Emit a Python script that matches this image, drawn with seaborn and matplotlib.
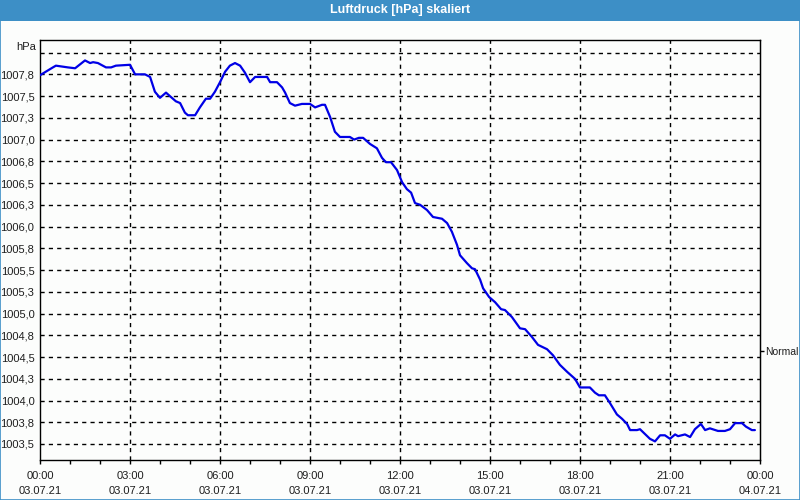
import matplotlib
matplotlib.use("Agg")
import matplotlib.pyplot as plt
from matplotlib.patches import Rectangle
import seaborn as sns
import pandas as pd

# ---- data ----
hours = [0.00, 0.43, 0.53, 0.93, 1.17, 1.50, 1.67, 1.77, 1.93, 2.20, 2.37, 2.53, 3.00,
         3.17, 3.50, 3.67, 3.83, 4.00, 4.20, 4.33, 4.53, 4.67, 4.83, 4.93, 5.17, 5.33,
         5.53, 5.67, 5.83, 6.00, 6.17, 6.33, 6.50, 6.67, 6.83, 7.00, 7.17, 7.57, 7.67,
         7.90, 8.07, 8.17, 8.33, 8.50, 8.73, 9.00, 9.17, 9.40, 9.50, 9.67, 9.83, 10.00,
         10.33, 10.47, 10.63, 10.77, 11.00, 11.23, 11.40, 11.53, 11.70, 11.90, 12.07,
         12.23, 12.37, 12.50, 12.67, 12.90, 13.10, 13.40, 13.57, 13.73, 13.90, 14.00,
         14.23, 14.40, 14.50, 14.67, 14.77, 14.97, 15.17, 15.37, 15.50, 15.73, 16.00,
         16.17, 16.40, 16.60, 16.90, 17.10, 17.33, 17.57, 17.83, 18.00, 18.33, 18.50,
         18.63, 18.83, 19.00, 19.23, 19.40, 19.57, 19.67, 19.90, 20.00, 20.33, 20.50,
         20.67, 20.83, 21.00, 21.17, 21.27, 21.50, 21.67, 21.83, 22.03, 22.17, 22.33,
         22.60, 22.83, 23.00, 23.17, 23.40, 23.53, 23.73, 23.83]
pressure = [1007.74, 1007.83, 1007.85, 1007.83, 1007.82, 1007.91, 1007.88, 1007.89,
            1007.88, 1007.83, 1007.83, 1007.85, 1007.86, 1007.75, 1007.75, 1007.72,
            1007.55, 1007.48, 1007.54, 1007.50, 1007.44, 1007.42, 1007.31, 1007.28,
            1007.28, 1007.37, 1007.47, 1007.47, 1007.55, 1007.66, 1007.78, 1007.85,
            1007.88, 1007.85, 1007.77, 1007.66, 1007.72, 1007.72, 1007.66, 1007.66,
            1007.60, 1007.54, 1007.42, 1007.39, 1007.41, 1007.41, 1007.37, 1007.40,
            1007.40, 1007.26, 1007.09, 1007.03, 1007.03, 1007.00, 1007.02, 1007.02,
            1006.95, 1006.90, 1006.79, 1006.74, 1006.74, 1006.65, 1006.51, 1006.43,
            1006.39, 1006.27, 1006.25, 1006.19, 1006.11, 1006.09, 1006.04, 1005.94,
            1005.79, 1005.67, 1005.58, 1005.52, 1005.51, 1005.39, 1005.29, 1005.19,
            1005.13, 1005.05, 1005.04, 1004.96, 1004.83, 1004.82, 1004.73, 1004.64,
            1004.59, 1004.52, 1004.41, 1004.33, 1004.25, 1004.15, 1004.15, 1004.09,
            1004.06, 1004.06, 1003.97, 1003.84, 1003.79, 1003.73, 1003.66, 1003.66,
            1003.67, 1003.56, 1003.53, 1003.60, 1003.60, 1003.56, 1003.61, 1003.59,
            1003.61, 1003.58, 1003.67, 1003.73, 1003.66, 1003.68, 1003.65, 1003.65,
            1003.67, 1003.74, 1003.74, 1003.70, 1003.66, 1003.66]

y_ticks = [1003.5, 1003.75, 1004.0, 1004.25, 1004.5, 1004.75, 1005.0, 1005.25, 1005.5,
           1005.75, 1006.0, 1006.25, 1006.5, 1006.75, 1007.0, 1007.25, 1007.5, 1007.75]
y_labels = ["1003,5", "1003,8", "1004,0", "1004,3", "1004,5", "1004,8", "1005,0", "1005,3",
            "1005,5", "1005,8", "1006,0", "1006,3", "1006,5", "1006,8", "1007,0", "1007,3",
            "1007,5", "1007,8"]
top_grid = 1008.0
unit_label = "hPa"
x_ticks = [0, 3, 6, 9, 12, 15, 18, 21, 24]
x_labels = ["00:00\n03.07.21", "03:00\n03.07.21", "06:00\n03.07.21", "09:00\n03.07.21",
            "12:00\n03.07.21", "15:00\n03.07.21", "18:00\n03.07.21", "21:00\n03.07.21",
            "00:00\n04.07.21"]
normal_value = 1004.57
normal_label = "Normal"
title = "Luftdruck [hPa] skaliert"

df = pd.DataFrame({"hour": hours, "pressure": pressure})

# ---- style ----
sns.set_style("white")
plt.rcParams["font.family"] = ["Liberation Sans", "DejaVu Sans"]
txt_color = "#1e1e1e"
bar_color = "#3d8fc6"

fig = plt.figure(figsize=(8, 5), dpi=100, facecolor="#fcfdfc")
ax = fig.add_axes([0.05, 0.08, 0.90, 0.84])
ax.set_facecolor("#fcfdfc")

sns.lineplot(data=df, x="hour", y="pressure", ax=ax, color="#0000e6",
             linewidth=1.6, zorder=5)

ax.set_xlim(0, 24)
ax.set_ylim(1003.316, 1008.145)

# grid
for v in y_ticks + [top_grid]:
    ax.axhline(v, color="black", lw=1.0, ls=(0, (3, 3)), zorder=1)
for h in x_ticks[1:-1]:
    ax.axvline(h, color="black", lw=1.0, ls=(0, (3, 3)), zorder=1)

ax.set_yticks(y_ticks)
ax.set_yticklabels(y_labels)
ax.tick_params(axis="y", length=0, pad=4, labelsize=8, labelcolor=txt_color)
ax.text(-0.006, top_grid + 0.07, unit_label, transform=ax.get_yaxis_transform(),
        ha="right", va="center", fontsize=8, color=txt_color)

ax.set_xticks(x_ticks)
ax.set_xticklabels(x_labels, linespacing=1.55)
ax.set_xticks(range(0, 25), minor=True)
ax.tick_params(axis="x", which="both", direction="out", length=3, width=1,
               color="black", pad=5, labelsize=8, labelcolor=txt_color, bottom=True)
ax.set_xlabel("")
ax.set_ylabel("")

for s in ax.spines.values():
    s.set_visible(True)
    s.set_color("black")
    s.set_linewidth(1.0)

# right "Normal" marker
sec = ax.secondary_yaxis("right")
sec.set_yticks([normal_value])
sec.set_yticklabels([normal_label])
sec.tick_params(axis="y", length=3, width=1, direction="out", pad=0.5, labelsize=7.5,
                labelcolor=txt_color, color="black")
sec.spines["right"].set_color("black")

# title bar and frame
fig.patches.append(Rectangle((0, 0.958), 1, 0.042, transform=fig.transFigure,
                             facecolor=bar_color, edgecolor="none", zorder=0))
fig.patches.append(Rectangle((0.0006, 0.001), 0.9988, 0.998, transform=fig.transFigure,
                             facecolor="none", edgecolor=bar_color, lw=1.2, zorder=-1))
fig.text(0.5, 0.979, title, ha="center", va="center", color="white",
         fontsize=9, fontweight="bold")

fig.savefig("out.png", dpi=100, facecolor=fig.get_facecolor())
